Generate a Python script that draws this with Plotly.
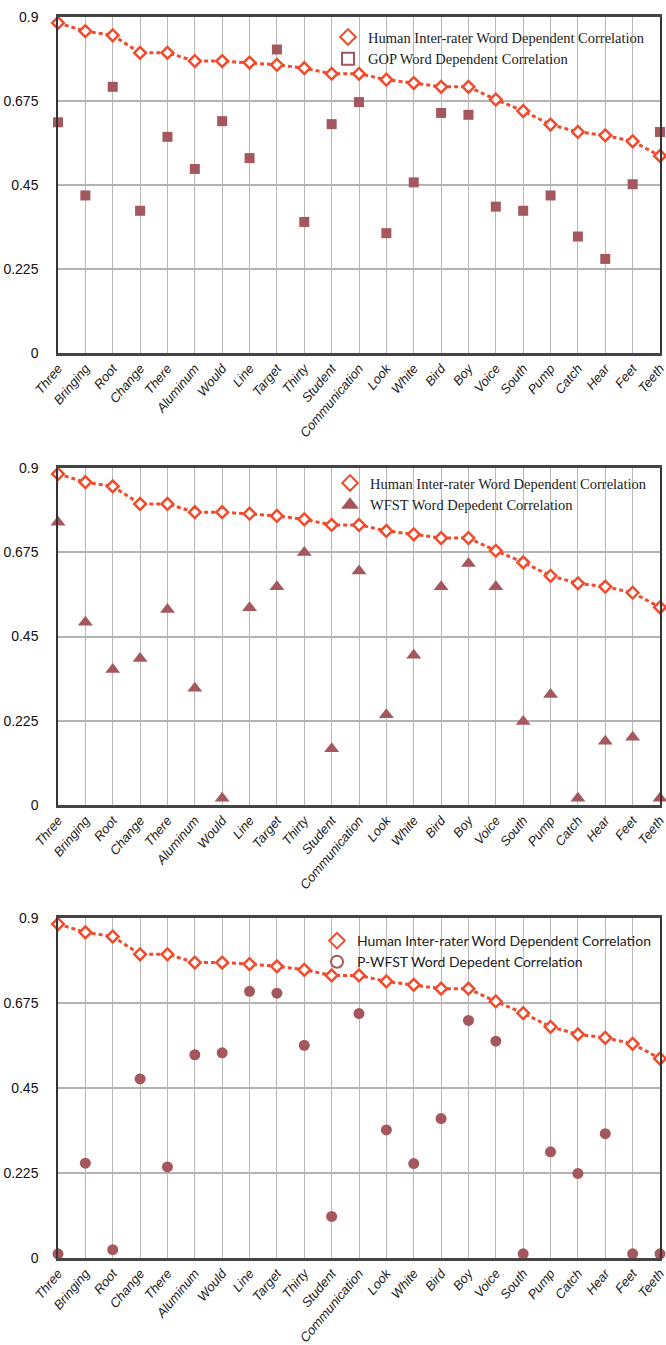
import plotly.graph_objects as go

words = ["Three", "Bringing", "Root", "Change", "There", "Aluminum", "Would", "Line",
         "Target", "Thirty", "Student", "Communication", "Look", "White", "Bird", "Boy",
         "Voice", "South", "Pump", "Catch", "Hear", "Feet", "Teeth"]

human = [0.884, 0.862, 0.851, 0.804, 0.804, 0.782, 0.782, 0.778, 0.772, 0.763, 0.748,
         0.748, 0.732, 0.723, 0.713, 0.713, 0.679, 0.648, 0.612, 0.592, 0.583, 0.567, 0.528]

gop = [0.618, 0.422, 0.713, 0.381, 0.579, 0.493, 0.621, 0.522, 0.813, 0.351, 0.613,
       0.672, 0.321, 0.457, 0.643, 0.638, 0.392, 0.381, 0.422, 0.312, 0.252, 0.452, 0.592]

wfst = [0.755, 0.488, 0.362, 0.391, 0.522, 0.312, 0.018, 0.527, 0.583, 0.674, 0.150,
        0.625, 0.241, 0.400, 0.583, 0.645, 0.583, 0.223, 0.295, 0.018, 0.170, 0.181, 0.018]

pwfst = [0.011, 0.251, 0.022, 0.474, 0.241, 0.538, 0.543, 0.706, 0.701, 0.563, 0.110,
         0.647, 0.339, 0.250, 0.369, 0.629, 0.574, 0.011, 0.281, 0.224, 0.329, 0.011, 0.011]

human_name = "Human Inter-rater Word Dependent Correlation"
panels = [
    (gop, "square", "square-open", "GOP Word Dependent Correlation", 10,
     "Liberation Serif, Times New Roman, serif", 14.5),
    (wfst, "triangle-up", "triangle-up", "WFST Word Depedent Correlation", 13,
     "Liberation Serif, Times New Roman, serif", 14.5),
    (pwfst, "circle", "circle-open", "P-WFST Word Depedent Correlation", 11,
     "Lato, Open Sans, sans-serif", 14),
]

RED = "#ef4b2c"
MAROON = "#a4575c"
W, H = 666.0, 1345.0
L, R = 58.0, 6.0
PW = W - L - R
# pixel positions (top, bottom) of each plot area
boxes = [(17, 353), (468, 805), (918, 1258)]
legend_tops = [21, 467, 925]
legend_left = [328, 330, 317]
# white legend backgrounds (pixels: x0, x1, y0, y1), hiding grid lines only
legend_bg = [(336, 660, 25, 69), (340, 660, 475, 517), (335, 660, 930, 972)]


def px_x(p):
    return (p - L) / PW


def px_y(p):
    return 1 - p / H


fig = go.Figure()
layout = dict(
    width=W, height=H,
    margin=dict(l=L, r=R, t=0, b=0, autoexpand=False),
    paper_bgcolor="white", plot_bgcolor="white",
    showlegend=True,
)
shapes = []

for i, (vals, sym, legsym, name, msize, lfont, lsize) in enumerate(panels):
    n = "" if i == 0 else str(i + 1)
    xa, ya = "x" + n, "y" + n
    leg = "legend" + n
    fig.add_trace(go.Scatter(
        x=words, y=vals, mode="markers", xaxis=xa, yaxis=ya, showlegend=False,
        marker=dict(symbol=sym, size=msize, color=MAROON, line=dict(width=0)),
        cliponaxis=False))
    fig.add_trace(go.Scatter(
        x=words, y=human, mode="lines+markers", xaxis=xa, yaxis=ya, showlegend=False,
        line=dict(color=RED, width=3, dash="4px,3px"),
        marker=dict(symbol="diamond", size=9, color="white", line=dict(color=RED, width=2.5)),
        cliponaxis=False))
    # legend entries (markers only)
    fig.add_trace(go.Scatter(
        x=[None], y=[None], mode="markers", xaxis=xa, yaxis=ya, name=human_name, legend=leg,
        marker=dict(symbol="diamond-open", size=10, color=RED, line=dict(color=RED, width=3))))
    fig.add_trace(go.Scatter(
        x=[None], y=[None], mode="markers", xaxis=xa, yaxis=ya, name=name, legend=leg,
        marker=dict(symbol=legsym, size=10 if legsym != "triangle-up" else 12,
                    color=MAROON, line=dict(color=MAROON, width=3))))

    top, bot = boxes[i]
    layout["xaxis" + n] = dict(
        domain=[0, 1], anchor=ya, type="category", range=[0, 22], automargin=False,
        categoryorder="array", categoryarray=words,
        tickangle=-50,
        tickfont=dict(family="Liberation Sans, Arial, sans-serif", size=13, color="#222",
                      style="italic"),
        showgrid=True, gridcolor="#b8b8b8", gridwidth=1,
        showline=True, linecolor="#444", linewidth=2.5, mirror=True, ticks="",
        zeroline=False,
    )
    layout["yaxis" + n] = dict(
        domain=[px_y(bot), px_y(top)], anchor=xa, range=[0, 0.9], automargin=False,
        tickvals=[0, 0.225, 0.45, 0.675, 0.9], ticktext=["0", "0.225", "0.45", "0.675", "0.9"],
        tickfont=dict(family="Liberation Sans, Arial, sans-serif", size=14, color="#111"),
        showgrid=True, gridcolor="#b3b3b3", gridwidth=1.5,
        showline=True, linecolor="#333", linewidth=1.5, mirror=True, ticks="",
        ticklabelstandoff=15, zeroline=False,
    )
    layout[leg] = dict(
        x=px_x(legend_left[i]), xanchor="left", y=px_y(legend_tops[i]), yanchor="top",
        bgcolor="rgba(0,0,0,0)", borderwidth=0,
        font=dict(family=lfont, size=lsize, color="#222"),
        tracegroupgap=0, itemsizing="constant",
    )
    x0, x1, y0, y1 = legend_bg[i]
    shapes.append(dict(
        type="rect", xref="paper", yref="paper", layer="between",
        x0=px_x(x0), x1=px_x(x1), y0=px_y(y1), y1=px_y(y0),
        fillcolor="white", line=dict(width=0)))

layout["shapes"] = shapes
fig.update_layout(**layout)
fig.write_html("out.html",
               config={"displayModeBar": False},
               post_script="document.body.style.margin='0px';"
                           "document.body.style.overflow='hidden';")
